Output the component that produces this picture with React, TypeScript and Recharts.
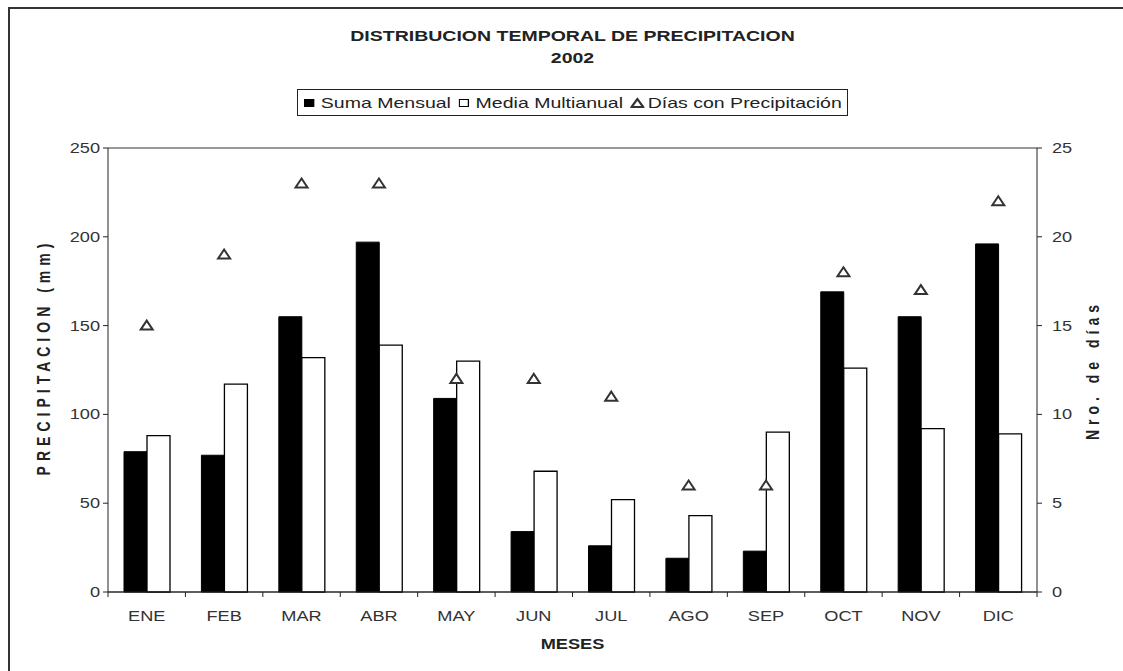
import React from 'react';
import {
  ComposedChart,
  Bar,
  Line,
  XAxis,
  YAxis,
  CartesianGrid,
  Legend,
} from 'recharts';

const meses = ['ENE', 'FEB', 'MAR', 'ABR', 'MAY', 'JUN', 'JUL', 'AGO', 'SEP', 'OCT', 'NOV', 'DIC'];
const sumaMensual = [79, 77, 155, 197, 109, 34, 26, 19, 23, 169, 155, 196];
const mediaMultianual = [88, 117, 132, 139, 130, 68, 52, 43, 90, 126, 92, 89];
const diasPrecipitacion = [15, 19, 23, 23, 12, 12, 11, 6, 6, 18, 17, 22];

const precipTicks = [0, 50, 100, 150, 200, 250];
const diasTicks = [0, 5, 10, 15, 20, 25];

const data = meses.map((mes, i) => ({
  mes,
  suma: sumaMensual[i],
  media: mediaMultianual[i],
  dias: diasPrecipitacion[i],
}));

const FONT = '"Liberation Sans", Arial, sans-serif';
const W = 1123;
const H = 671;
const PLOT_LEFT = 108;
const PLOT_RIGHT = 1037;
const Y_AXIS_W = 60;
const TICK_SIZE = 5;
const TICK_MARGIN = 8;
const BAND = (PLOT_RIGHT - PLOT_LEFT) / meses.length;
// the original picture is stretched sideways, text included
const STRETCH = 1.3;

const Triangle = (props: any) => {
  const { cx, cy } = props;
  if (cx == null || cy == null) return null;
  return (
    <polygon
      points={`${cx},${cy - 5} ${cx - 6},${cy + 4} ${cx + 6},${cy + 4}`}
      fill="#fff"
      stroke="#333"
      strokeWidth={2}
    />
  );
};

const StretchText = ({ x, y, anchor, children, dy }: any) => (
  <text
    transform={`translate(${x},${y}) scale(${STRETCH},1)`}
    x={0}
    y={0}
    dy={dy}
    textAnchor={anchor}
    fill="#333"
    fontSize={14}
    fontFamily={FONT}
  >
    {children}
  </text>
);

// month label + tick mark on the left boundary of each category
const MonthTick = (props: any) => {
  const { x, y, payload, index } = props;
  const axisY = y - TICK_SIZE - TICK_MARGIN;
  const left = x - BAND / 2;
  return (
    <g>
      <line x1={left} y1={axisY} x2={left} y2={axisY + 5} stroke="#222" />
      {index === meses.length - 1 && (
        <line x1={x + BAND / 2} y1={axisY} x2={x + BAND / 2} y2={axisY + 5} stroke="#222" />
      )}
      <StretchText x={x} y={y} dy={16} anchor="middle">{payload.value}</StretchText>
    </g>
  );
};

const LeftTick = (props: any) => {
  const { x, y, payload } = props;
  return <StretchText x={x - 1} y={y} dy={5} anchor="end">{payload.value}</StretchText>;
};

const RightTick = (props: any) => {
  const { x, y, payload } = props;
  return <StretchText x={x + 8} y={y} dy={5} anchor="start">{payload.value}</StretchText>;
};

const LegendBox = () => (
  <div
    style={{
      border: '1px solid #222',
      background: '#fff',
      height: 27,
      boxSizing: 'border-box',
      display: 'flex',
      alignItems: 'center',
      justifyContent: 'center',
    }}
  >
    <div
      style={{
        display: 'flex',
        alignItems: 'center',
        gap: 4,
        fontFamily: FONT,
        fontSize: 15,
        color: '#222',
        whiteSpace: 'nowrap',
        transform: `scaleX(${STRETCH})`,
      }}
    >
      <svg width={9} height={9}><rect x={0} y={1} width={8} height={8} fill="#000" /></svg>
      <span>Suma Mensual</span>
      <svg width={9} height={9} style={{ marginLeft: 2 }}><rect x={0.5} y={1.5} width={7} height={7} fill="#fff" stroke="#000" /></svg>
      <span>Media Multianual</span>
      <svg width={11} height={11} style={{ marginLeft: 2 }}><polygon points="5.5,2 1,10 10,10" fill="#fff" stroke="#333" strokeWidth={1.8} /></svg>
      <span style={{ marginLeft: -2 }}>Días con Precipitación</span>
    </div>
  </div>
);

const headStyle: React.CSSProperties = {
  position: 'absolute',
  left: 0,
  width: 1145,
  textAlign: 'center',
  fontFamily: FONT,
  fontWeight: 'bold',
  color: '#222',
  transform: `scaleX(${STRETCH})`,
};

export default function App() {
  return (
    <div style={{ position: 'fixed', left: 0, top: 0, width: W, height: H, background: '#fff', overflow: 'hidden' }}>
      <div
        style={{
          position: 'absolute',
          left: 8,
          top: 7,
          width: W,
          height: H,
          borderTop: '2px solid #333',
          borderLeft: '2px solid #333',
        }}
      />
      <div style={{ ...headStyle, top: 25, fontSize: 15, lineHeight: '22px' }}>
        DISTRIBUCION TEMPORAL DE PRECIPITACION
        <br />
        2002
      </div>
      <ComposedChart
        width={W}
        height={H}
        data={data}
        margin={{ top: 148, right: W - PLOT_RIGHT - Y_AXIS_W, bottom: 49, left: PLOT_LEFT - Y_AXIS_W }}
        barCategoryGap="20%"
        barGap={0}
      >
        <CartesianGrid vertical={false} stroke="#333" />
        <XAxis
          dataKey="mes"
          height={30}
          axisLine={{ stroke: '#222' }}
          tickLine={false}
          tickSize={TICK_SIZE}
          tickMargin={TICK_MARGIN}
          tick={<MonthTick />}
          interval={0}
        />
        <YAxis
          yAxisId="left"
          width={Y_AXIS_W}
          domain={[0, 250]}
          ticks={precipTicks}
          axisLine={{ stroke: '#222' }}
          tickLine={{ stroke: '#222' }}
          tickSize={TICK_SIZE}
          tick={<LeftTick />}
        />
        <YAxis
          yAxisId="right"
          orientation="right"
          width={Y_AXIS_W}
          domain={[0, 25]}
          ticks={diasTicks}
          axisLine={{ stroke: '#222' }}
          tickLine={{ stroke: '#222' }}
          tickSize={TICK_SIZE}
          tick={<RightTick />}
        />
        <Legend
          verticalAlign="middle"
          align="center"
          content={<LegendBox />}
          wrapperStyle={{ top: 89, left: 297, width: 551, height: 27 }}
        />
        <Bar yAxisId="left" dataKey="suma" name="Suma Mensual" fill="#000" stroke="#000" barSize={23} isAnimationActive={false} />
        <Bar yAxisId="left" dataKey="media" name="Media Multianual" fill="#fff" stroke="#000" strokeWidth={1.3} barSize={23} isAnimationActive={false} />
        <Line
          yAxisId="right"
          dataKey="dias"
          name="Días con Precipitación"
          stroke="none"
          dot={<Triangle />}
          activeDot={false}
          isAnimationActive={false}
        />
      </ComposedChart>
      <div
        style={{
          position: 'absolute',
          left: 43,
          top: 357,
          transform: 'translate(-50%, -50%) rotate(-90deg) scaleY(1.3)',
          whiteSpace: 'nowrap',
          fontFamily: FONT,
          fontWeight: 'bold',
          fontSize: 14,
          letterSpacing: 5,
          color: '#222',
        }}
      >
        PRECIPITACION (mm)
      </div>
      <div
        style={{
          position: 'absolute',
          left: 1093,
          top: 370,
          transform: 'translate(-50%, -50%) rotate(-90deg) scaleY(1.3)',
          whiteSpace: 'nowrap',
          fontFamily: FONT,
          fontWeight: 'bold',
          fontSize: 14,
          letterSpacing: 5,
          color: '#222',
        }}
      >
        Nro. de días
      </div>
      <div style={{ ...headStyle, top: 636, fontSize: 14 }}>MESES</div>
    </div>
  );
}
